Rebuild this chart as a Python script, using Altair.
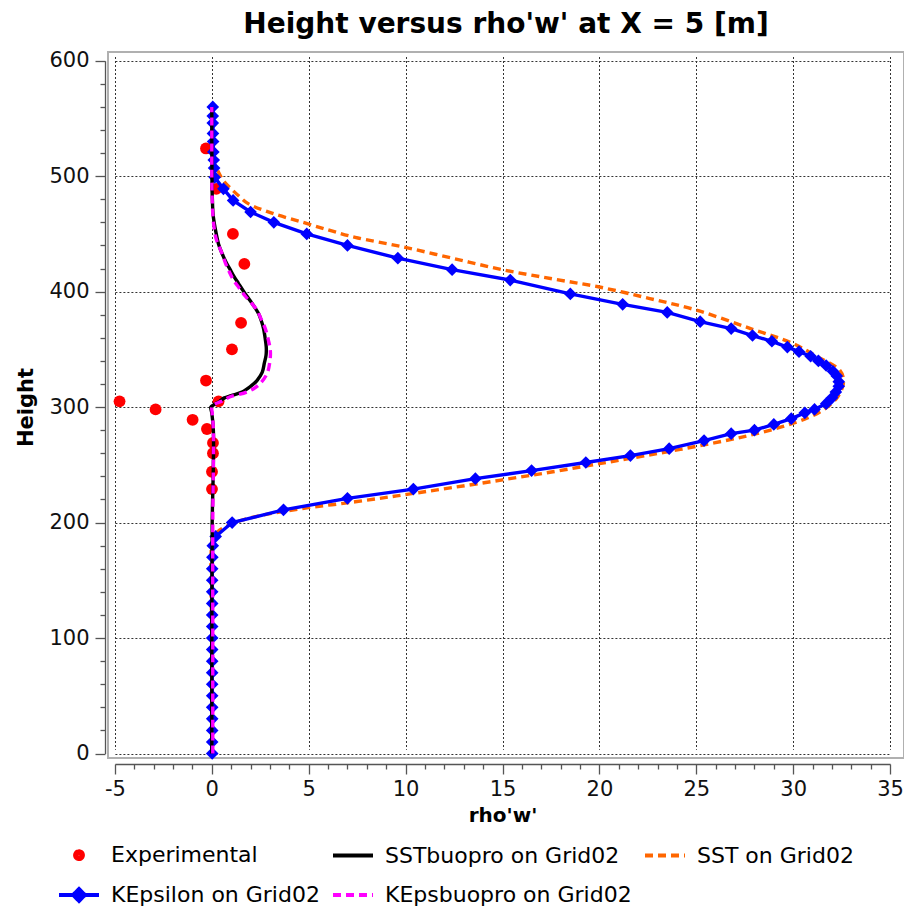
import altair as alt
import pandas as pd

# ---------------- data ----------------
series_names = ["Experimental", "SSTbuopro on Grid02", "SST on Grid02",
                "KEpsilon on Grid02", "KEpsbuopro on Grid02"]

exp_h = [524, 489, 450, 424, 373, 350, 323, 305, 305, 298, 289, 281, 269, 260, 244, 229]
exp_v = [-0.30, 0.23, 1.09, 1.68, 1.51, 1.04, -0.30, 0.35, -4.76, -2.90, -0.99, -0.25,
         0.06, 0.06, 0.01, 0.01]

ke_h = [0, 10, 20, 30, 40, 50, 60, 70, 80, 90, 100, 110, 120, 130, 140, 150, 160, 170, 180, 188,
        200, 211, 221, 229, 238, 245, 252, 258, 264, 271, 277, 280, 285, 290, 295, 298, 303,
        308, 313, 318, 322, 327, 331, 336, 340, 344, 348, 352, 357, 362, 368, 374, 382, 389,
        398, 410, 419, 429, 440, 450, 460, 469, 479, 489, 499, 507, 514, 521, 530, 537, 546,
        552, 560]
ke_v = [0.02, 0.02, 0.02, 0.02, 0.02, 0.02, 0.02, 0.02, 0.02, 0.02, 0.02, 0.02, 0.02, 0.02,
        0.02, 0.02, 0.02, 0.03, 0.05, 0.2,
        1.05, 3.7, 7.0, 10.4, 13.6, 16.5, 19.3, 21.6, 23.6, 25.4, 26.8, 28.0, 29.0, 29.9, 30.6,
        31.1, 31.7, 32.0, 32.2, 32.35, 32.35, 32.25, 32.05, 31.7, 31.3, 30.9, 30.3, 29.7, 28.9,
        27.9, 26.8, 25.2, 23.5, 21.2, 18.5, 15.4, 12.4, 9.6, 7.0, 4.9, 3.2, 2.0, 1.1, 0.6,
        0.15, 0.12, 0.1, 0.08, 0.07, 0.06, 0.05, 0.05, 0.05]

sst_h = [0, 100, 185, 192, 200, 206, 212, 218, 224, 230, 237, 244, 251, 258, 266, 275, 286,
         297, 309, 322, 332, 344, 355, 368, 384, 394, 404, 411, 419, 429, 439, 447, 453, 460,
         468, 476, 482, 489, 496, 505, 512, 525, 560]
sst_v = [0.0, 0.0, 0.05, 0.3, 1.2, 2.5, 4.6, 7.4, 9.9, 12.3, 15.0, 17.6, 20.0, 22.4, 25.0,
         27.6, 30.0, 31.5, 32.3, 32.6, 32.4, 31.2, 30.0, 27.8, 25.0, 22.6, 20.0, 17.6, 15.0,
         12.4, 9.8, 7.4, 6.1, 4.7, 3.1, 1.9, 1.45, 1.0, 0.6, 0.3, 0.12, 0.05, 0.05]

sstb_h = [0, 100, 200, 250, 280, 295, 300, 302, 305, 308, 310, 313, 318, 323, 330, 338, 345,
          352, 360, 368, 375, 381, 388, 394, 400, 407, 413, 419, 425, 433, 441, 450, 460, 468,
          480, 490, 500, 530, 560]
sstb_v = [0.0, 0.0, 0.02, 0.08, 0.08, 0.0, -0.05, 0.1, 0.4, 0.65, 1.0, 1.56, 2.0, 2.33, 2.6,
          2.71, 2.8, 2.81, 2.75, 2.67, 2.55, 2.41, 2.15, 1.9, 1.65, 1.38, 1.15, 0.95, 0.75,
          0.53, 0.35, 0.23, 0.12, 0.06, 0.03, 0.01, 0.01, 0.0, 0.0]

keb_h = [0, 100, 200, 280, 295, 300, 302, 305, 309, 313, 319, 329, 340, 349, 358, 368, 376,
         384, 390, 396, 403, 410, 418, 425, 433, 440, 446, 455, 465, 480, 500, 530, 560]
keb_v = [0.05, 0.05, 0.05, 0.08, 0.02, 0.0, 0.09, 0.5, 0.95, 1.8, 2.41, 2.85, 3.0, 3.02, 2.92,
         2.76, 2.55, 2.33, 2.05, 1.73, 1.42, 1.12, 0.88, 0.7, 0.53, 0.35, 0.22, 0.12, 0.06,
         0.02, 0.0, 0.0, 0.0]

x_ticks = list(range(-5, 36))
y_ticks = list(range(0, 601, 20))

series_colors = ["#ff0000", "#000000", "#ff6600", "#0000ff", "#ff00ff"]
series_dash = [[1, 0], [1, 0], [8, 5], [1, 0], [8, 5]]
series_symbols = [
    "M-0.2,0A0.2,0.2,0,1,0,0.2,0A0.2,0.2,0,1,0,-0.2,0M-0.08,0A0.08,0.08,0,1,0,0.08,0A0.08,0.08,0,1,0,-0.08,0",
    "M-1,0L1,0",
    "M-1,0L1,0",
    "M-1,0L1,0M0,-0.3L0.3,0L0,0.3L-0.3,0ZM0,-0.12L0.12,0L0,0.12L-0.12,0Z",
    "M-1,0L1,0",
]


def frame(h, v, name):
    assert len(h) == len(v)
    return pd.DataFrame({"h": h, "v": v, "i": list(range(len(h))), "series": name})


FONT = "DejaVu Sans"

xaxis = alt.Axis(
    values=x_ticks,
    labelExpr="datum.value % 5 === 0 ? '' + datum.value : ''",
    tickSize={"condition": {"test": "datum.value % 5 === 0", "value": 10}, "value": 5},
    grid=True,
    gridOpacity={"condition": {"test": "datum.value % 5 === 0", "value": 1}, "value": 0},
    gridDash=[2, 2], gridColor="#333333", gridWidth=1,
    domainColor="#555555", tickColor="#555555", domainWidth=1.3, tickWidth=1.3,
    labelFont=FONT, labelFontSize=21, labelColor="#111111", labelPadding=4,
    labelOverlap=False, labelFlush=False,
    titleFont=FONT, titleFontSize=20, titleFontWeight="bold", titleColor="#000000",
    titlePadding=6, offset=6,
)
yaxis = alt.Axis(
    values=y_ticks,
    labelExpr="datum.value % 100 === 0 ? '' + datum.value : ''",
    tickSize={"condition": {"test": "datum.value % 100 === 0", "value": 10}, "value": 5},
    grid=True,
    gridOpacity={"condition": {"test": "datum.value % 100 === 0", "value": 1}, "value": 0},
    gridDash=[2, 2], gridColor="#333333", gridWidth=1,
    domainColor="#555555", tickColor="#555555", domainWidth=1.3, tickWidth=1.3,
    labelFont=FONT, labelFontSize=21, labelColor="#111111", labelPadding=6,
    labelOverlap=False,
    titleFont=FONT, titleFontSize=21, titleFontWeight="bold", titleColor="#000000",
    titlePadding=12, offset=3,
)

X = alt.X("v:Q", title="rho'w'", axis=xaxis,
          scale=alt.Scale(domain=[-5, 35], range=[6.9, 782.1], nice=False, zero=False))
Y = alt.Y("h:Q", title="Height", axis=yaxis,
          scale=alt.Scale(domain=[0, 600], range=[701.5, 8.7], nice=False, zero=False))

exp_layer = alt.Chart(frame(exp_h, exp_v, series_names[0])).mark_circle(
    color="#ff0000", size=140, opacity=1).encode(x=X, y=Y)

sst_layer = alt.Chart(frame(sst_h, sst_v, series_names[2])).mark_line(
    color="#ff6600", strokeWidth=3.4, strokeDash=[8, 5], interpolate="catmull-rom"
).encode(x=X, y=Y, order="i:Q")

ke_layer = alt.Chart(frame(ke_h, ke_v, series_names[3])).mark_line(
    color="#0000ff", strokeWidth=3.4,
    point=alt.OverlayMarkDef(shape="diamond", size=160, filled=True, color="#0000ff", opacity=1),
).encode(x=X, y=Y, order="i:Q")

sstb_layer = alt.Chart(frame(sstb_h, sstb_v, series_names[1])).mark_line(
    color="#000000", strokeWidth=3.4, interpolate="catmull-rom"
).encode(x=X, y=Y, order="i:Q")

keb_layer = alt.Chart(frame(keb_h, keb_v, series_names[4])).mark_line(
    color="#ff00ff", strokeWidth=3.4, strokeDash=[8, 5], interpolate="catmull-rom"
).encode(x=X, y=Y, order="i:Q")

legend = alt.Legend(
    title=None, orient="none", legendX=-51, legendY=781, columns=3, direction="horizontal",
    symbolSize=1600, symbolStrokeWidth=3.8, labelFont=FONT, labelFontSize=22,
    labelColor="#000000", labelOffset=10, labelLimit=600, columnPadding=5,
    rowPadding=6, padding=0, gridAlign="each",
)

legend_df = pd.DataFrame({"series": series_names})
legend_layer = alt.Chart(legend_df).transform_filter("false").mark_point(
    filled=False, opacity=1, strokeWidth=3.8
).encode(
    color=alt.Color("series:N", scale=alt.Scale(domain=series_names, range=series_colors), legend=legend),
    shape=alt.Shape("series:N", scale=alt.Scale(domain=series_names, range=series_symbols), legend=legend),
    strokeDash=alt.StrokeDash("series:N", scale=alt.Scale(domain=series_names, range=series_dash), legend=legend),
)

chart = alt.layer(
    exp_layer, sst_layer, ke_layer, sstb_layer, keb_layer, legend_layer
).properties(
    width=796, height=706,
    title=alt.TitleParams("Height versus rho'w' at X = 5 [m]", font=FONT, fontSize=28,
                          fontWeight="bold", color="#000000", anchor="middle", offset=11),
    autosize=alt.AutoSizeParams(type="none"),
    padding={"left": 108, "top": 52, "right": 0, "bottom": 151},
    background="#ffffff",
).configure_view(stroke="#b0b0b0", strokeWidth=2)

chart.save("out.html", embed_options={"renderer": "svg", "actions": False})
